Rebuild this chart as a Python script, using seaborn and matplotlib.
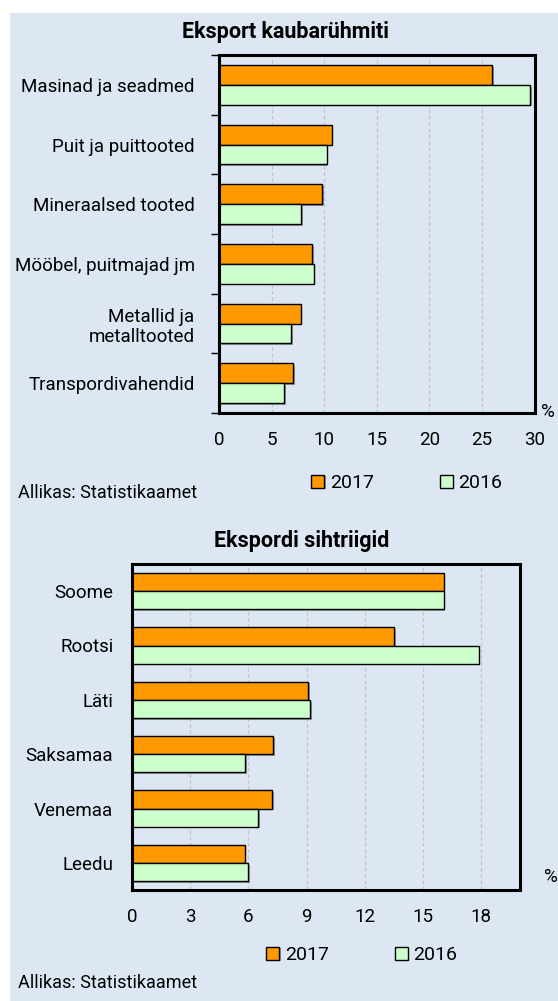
import matplotlib
matplotlib.use("Agg")
import matplotlib.pyplot as plt
import matplotlib.patheffects as pe
from matplotlib.patches import Rectangle
from matplotlib.ticker import FixedLocator
import seaborn as sns
import pandas as pd

# ---- data ----
groups = ["Masinad ja seadmed", "Puit ja puittooted", "Mineraalsed tooted",
          "Mööbel, puitmajad jm", "Metallid ja\nmetalltooted", "Transpordivahendid"]
groups_2017 = [26.0, 10.7, 9.8, 8.85, 7.75, 7.08]
groups_2016 = [29.6, 10.25, 7.8, 9.0, 6.85, 6.2]

countries = ["Soome", "Rootsi", "Läti", "Saksamaa", "Venemaa", "Leedu"]
countries_2017 = [16.07, 13.5, 9.09, 7.29, 7.22, 5.8]
countries_2016 = [16.07, 17.87, 9.2, 5.82, 6.52, 6.0]

years = ["2017", "2016"]
top_ticks = [0, 5, 10, 15, 20, 25, 30]
bot_ticks = [0, 3, 6, 9, 12, 15, 18]

BG = "#DCE7F3"
ORANGE = "#FF9900"
GREEN = "#CCFFCC"

sns.set_theme(style="white")
plt.rcParams["font.family"] = ["Roboto", "DejaVu Sans"]
plt.rcParams["text.color"] = "black"
plt.rcParams["xtick.color"] = "black"
plt.rcParams["ytick.color"] = "black"
plt.rcParams["xtick.labelcolor"] = "black"
plt.rcParams["ytick.labelcolor"] = "black"

W, H = 558, 1001
fig = plt.figure(figsize=(W / 100, H / 100), dpi=100)
fig.patch.set_facecolor("white")
fig.patches.append(Rectangle((10 / W, 0), 1 - 10 / W, 1 - 13 / H,
                             transform=fig.transFigure, facecolor=BG,
                             edgecolor="none", zorder=-10))


def make_df(cats, v17, v16):
    rows = []
    for c, a, b in zip(cats, v17, v16):
        rows.append({"cat": c, "year": "2017", "val": a})
        rows.append({"cat": c, "year": "2016", "val": b})
    return pd.DataFrame(rows)


def draw(ax, df, cats, xmax, ticks, boundary_ticks, ypad):
    ax.set_facecolor(BG)
    sns.barplot(data=df, y="cat", x="val", hue="year", hue_order=years,
                order=cats, palette=[ORANGE, GREEN], orient="h", width=0.67,
                edgecolor="black", linewidth=1.0, ax=ax, legend=True,
                saturation=1)
    for p in ax.patches:
        p.set_path_effects([pe.SimplePatchShadow(offset=(1.2, -1.2),
                                                 shadow_rgbFace="#666666", alpha=0.6),
                            pe.Normal()])
    ax.set_xlim(0, xmax)
    ax.set_ylim(len(cats) - 0.5, -0.5)
    ax.set_xticks(ticks)
    ax.set_xticklabels([str(t) for t in ticks], fontsize=13.5)
    ax.tick_params(axis="x", which="major", direction="out", length=5,
                   width=1, color="black", pad=8, labelcolor="black")
    ax.tick_params(axis="y", which="major", length=0, labelsize=13.5,
                   pad=ypad, labelcolor="black")
    if boundary_ticks:
        ax.yaxis.set_minor_locator(FixedLocator([i - 0.5 for i in range(len(cats) + 1)]))
        ax.tick_params(axis="y", which="minor", direction="out", length=6,
                       width=1, color="black", left=True)
    for t in ticks[1:]:
        if t < xmax:
            ax.axvline(t, color="#C4C4C4", lw=0.9, ls=(0, (3, 2)), zorder=0)
    ax.set_xlabel("")
    ax.set_ylabel("")
    for s in ax.spines.values():
        s.set_visible(True)
        s.set_color("black")
        s.set_linewidth(2.2)
    handles, labels = ax.get_legend_handles_labels()
    ax.legend_.remove()
    return handles, labels


# top chart
ax1 = fig.add_axes([219 / W, 1 - 413 / H, 315.5 / W, 358 / H])
h1, l1 = draw(ax1, make_df(groups, groups_2017, groups_2016), groups, 30,
              top_ticks, True, 17.5)
fig.text(285 / W, 1 - 32 / H, "Eksport kaubarühmiti", ha="center", va="center",
         fontsize=15.5, fontweight="bold")
fig.text(548 / W, 1 - 412 / H, "%", ha="center", va="center", fontsize=13.5)
fig.legend(h1, l1, loc="center", bbox_to_anchor=(407 / W, 1 - 483 / H), ncol=2,
           frameon=False, fontsize=14, handlelength=0.65, handleheight=0.65,
           handletextpad=0.3, columnspacing=3.4)
fig.text(18 / W, 1 - 493 / H, "Allikas: Statistikaamet", ha="left", va="center",
         fontsize=13)

# bottom chart
ax2 = fig.add_axes([132 / W, 1 - 890 / H, 388 / W, 326 / H])
h2, l2 = draw(ax2, make_df(countries, countries_2017, countries_2016), countries,
              20, bot_ticks, False, 13.5)
fig.text(302 / W, 1 - 541 / H, "Ekspordi sihtriigid", ha="center", va="center",
         fontsize=15.5, fontweight="bold")
fig.text(551 / W, 1 - 877 / H, "%", ha="center", va="center", fontsize=13.5)
fig.legend(h2, l2, loc="center", bbox_to_anchor=(362 / W, 1 - 955 / H), ncol=2,
           frameon=False, fontsize=14, handlelength=0.65, handleheight=0.65,
           handletextpad=0.3, columnspacing=3.4)
fig.text(18 / W, 1 - 983 / H, "Allikas: Statistikaamet", ha="left", va="center",
         fontsize=13)

fig.savefig("out.png", dpi=100)
